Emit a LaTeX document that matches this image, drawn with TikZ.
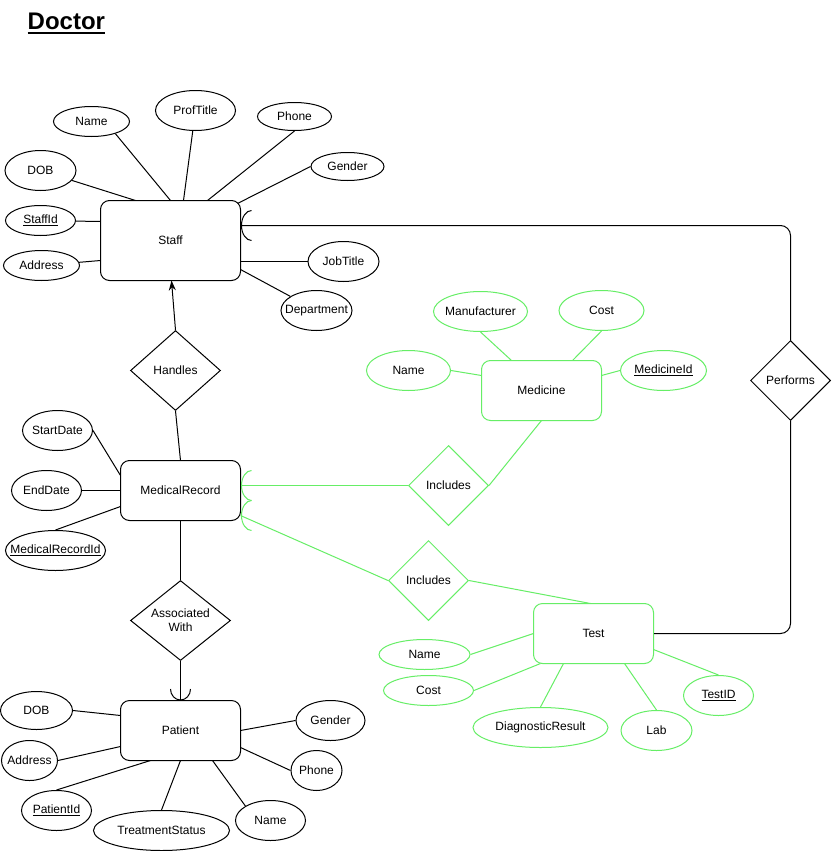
\documentclass[tikz,border=0pt]{standalone}
\usepackage{fontspec}
\setmainfont{Liberation Sans}
\usetikzlibrary{shapes.geometric,calc,arrows.meta}

\definecolor{erGreen}{HTML}{66EE66}

% underlined key attribute text
\newsavebox\ulbox
\newcommand\ulabel[1]{\sbox\ulbox{#1}\rlap{\rule[-2.2pt]{\wd\ulbox}{0.9pt}}\usebox\ulbox}

\tikzset{
  every node/.style={font=\fontsize{12}{14}\selectfont},
  ent/.style={draw, rectangle, rounded corners=9pt, minimum width=120pt,
              minimum height=60pt, inner sep=0pt, line width=1pt},
  attr/.style 2 args={draw, ellipse, minimum width=#1pt, minimum height=#2pt,
              inner sep=0pt, line width=1pt},
  rel/.style 2 args={draw, diamond, minimum width=#1pt, minimum height=#2pt,
              inner sep=0pt, line width=1pt},
  link/.style={line width=1pt},
  grn/.style={draw=erGreen},
  halfring/.pic={\draw[line width=1pt] (11,-15) .. controls (5.5,-15) and (1,-8.3) .. (1,0)
                 .. controls (1,8.3) and (5.5,15) .. (11,15);}
}

\begin{document}
\begin{tikzpicture}[x=1pt, y=-1pt]
\fill[white] (0,0) rectangle (831,851);
\useasboundingbox (0,0) rectangle (831,851);

% half-unit shift keeps 1pt strokes on whole pixels
\begin{scope}[shift={(0.5,0.5)}]

% title
\node[anchor=base west, inner sep=0pt, font=\fontsize{24}{28}\selectfont\bfseries] (title) at (27,29) {Doctor};
\draw[line width=2pt] ($(title.base west)+(0,3.5)$) -- ($(title.base east)+(0,3.5)$);

% ---------- Staff ----------
\node[ent, minimum width=140pt, minimum height=80pt] (staff) at (170,240) {Staff};
\node[attr={76}{30}, label=center:Name] (stName) at (91,121) {};
\node[attr={80}{40}, label=center:ProfTitle] (stProf) at (195,110) {};
\node[attr={74}{28}, label=center:Phone] (stPhone) at (294,116) {};
\node[attr={73}{28}, label=center:Gender] (stGender) at (347,166) {};
\node[attr={71}{40}, label=center:DOB] (stDOB) at (40,170) {};
\node[attr={70}{30}, label={center:\ulabel{StaffId}}] (stId) at (40,220) {};
\node[attr={76}{30}, label=center:Address] (stAddr) at (41,265) {};
\node[attr={71}{40}, label=center:JobTitle] (stJob) at (343,261) {};
\node[attr={71}{40}, label=center:Department] (stDept) at (316,310) {};

\draw[link] (stName.333) -- ($(staff)+(0,-40)$);
\draw[link] (stProf) -- ($(staff)+(13,-40)$);
\draw[link] (stPhone.south) -- ($(staff)+(37,-40)$);
\draw[link] (stGender.west) -- ($(staff)+(67,-37)$);
\draw[link] (stDOB) -- ($(staff)+(-35,-40)$);
\draw[link] (stId) -- ($(staff)+(-70,-19)$);
\draw[link] (stAddr) -- ($(staff)+(-70,20)$);
\draw[link] (stJob) -- ($(staff)+(70,21)$);
\draw[link] (stDept) -- ($(staff)+(70,29)$);

% ---------- Handles ----------
\node[rel={90}{80}, label=center:Handles] (handles) at (175,370) {};

% ---------- MedicalRecord ----------
\node[ent] (mr) at (180,490) {MedicalRecord};
\node[attr={70}{40}, label=center:StartDate] (mrStart) at (57,430) {};
\node[attr={70}{40}, label=center:EndDate] (mrEnd) at (46,490) {};
\node[attr={100}{40}, label={center:\ulabel{MedicalRecordId}}] (mrId) at (55,550) {};

\draw[link] (mrStart.east) -- ($(mr)+(-60,-15)$);
\draw[link] (mrEnd) -- ($(mr)+(-60,0)$);
\draw[link] (mrId.north) -- ($(mr)+(-60,16)$);

\draw[link, -{Stealth[length=10pt,width=7pt]}] (handles.north) -- ($(staff)+(1,40)$);
\draw[link] (handles.south) -- ($(mr)+(0,-30)$);

% ---------- Associated With / Patient ----------
\node[rel={100}{80}, label={[align=center]center:Associated\\With}] (assoc) at (180,620) {};
\node[ent] (pat) at (180,730) {Patient};
\node[attr={72}{38}, label=center:DOB] (ptDOB) at (36,710) {};
\node[attr={56}{40}, label=center:Address] (ptAddr) at (29,760) {};
\node[attr={70}{40}, label={center:\ulabel{PatientId}}] (ptId) at (56,810) {};
\node[attr={136}{40}, label=center:TreatmentStatus] (ptTreat) at (161,830) {};
\node[attr={70}{40}, label=center:Name] (ptName) at (270,820) {};
\node[attr={51}{40}, label=center:Phone] (ptPhone) at (316,770) {};
\node[attr={69}{40}, label=center:Gender] (ptGender) at (330,720) {};

\draw[link] ($(mr)+(0,30)$) -- (assoc.north);
\draw[link] (assoc.south) -- (pat.north);
\begin{scope}[shift={(pat.north)}]
  \draw[link] (-10,-11) .. controls (-10,-4.9) and (-5.5,0) .. (0,0)
              .. controls (5.5,0) and (10,-4.9) .. (10,-11);
\end{scope}

\draw[link] (ptDOB.east) -- ($(pat)+(-60,-15)$);
\draw[link] (ptAddr.east) -- ($(pat)+(-60,16)$);
\draw[link] (ptId.north) -- ($(pat)+(-30,30)$);
\draw[link] (ptTreat.north) -- ($(pat)+(0,30)$);
\draw[link] (ptName.150) -- ($(pat)+(32,30)$);
\draw[link] (ptPhone.west) -- ($(pat)+(60,17)$);
\draw[link] (ptGender.west) -- ($(pat)+(60,0)$);

% ---------- Medicine ----------
\node[ent, grn] (med) at (541,390) {Medicine};
\node[attr={94}{40}, grn, label=center:Manufacturer] (mdMan) at (480,311) {};
\node[attr={85}{40}, grn, label=center:Cost] (mdCost) at (601,310) {};
\node[attr={84}{40}, grn, label=center:Name] (mdName) at (408,370) {};
\node[attr={86}{40}, grn, label={center:\ulabel{MedicineId}}] (mdId) at (663,370) {};

\draw[link, grn] (mdMan.south) -- ($(med)+(-30,-30)$);
\draw[link, grn] (mdCost.south) -- ($(med)+(31,-30)$);
\draw[link, grn] (mdName.east) -- ($(med)+(-60,-15)$);
\draw[link, grn] (mdId.west) -- ($(med)+(60,-15)$);

% ---------- Test ----------
\node[ent, grn] (test) at (593,633) {Test};
\node[attr={91}{30}, grn, label=center:Name] (tsName) at (424,654) {};
\node[attr={90}{30}, grn, label=center:Cost] (tsCost) at (428,690) {};
\node[attr={135}{40}, grn, label=center:DiagnosticResult] (tsDiag) at (540,727) {};
\node[attr={71}{40}, grn, label=center:Lab] (tsLab) at (656,730) {};
\node[attr={70}{40}, grn, label={center:\ulabel{TestID}}] (tsId) at (718,695) {};

\draw[link, grn] (tsName.east) -- ($(test)+(-60,0)$);
\draw[link, grn] (tsCost.east) -- ($(test)+(-53,30)$);
\draw[link, grn] (tsDiag.north) -- ($(test)+(-30,30)$);
\draw[link, grn] (tsLab.north) -- ($(test)+(31,30)$);
\draw[link, grn] (tsId.north) -- ($(test)+(60,16)$);

% ---------- Includes relationships ----------
\node[rel={80}{80}, grn, label=center:Includes] (inc1) at (448,485) {};
\node[rel={80}{80}, grn, label=center:Includes] (inc2) at (428,580) {};

\draw[link, grn] ($(mr)+(60,-5)$) -- (inc1.west);
\draw[link, grn] (inc1.east) -- ($(med)+(0,30)$);
\draw[link, grn] ($(mr)+(60,25)$) -- (inc2.west);
\draw[link, grn] (inc2.east) -- ($(test)+(-3,-30)$);
\pic[color=erGreen] at ($(mr)+(60,-5)$) {halfring};
\pic[color=erGreen] at ($(mr)+(60,25)$) {halfring};

% ---------- Performs ----------
\node[rel={80}{80}, label=center:Performs] (perf) at (790,380) {};
\draw[link, rounded corners=10pt] ($(staff)+(70,-15)$) -| (perf.north);
\draw[link, rounded corners=10pt] (test.east) -| (perf.south);
\pic at ($(staff)+(70,-15)$) {halfring};

\end{scope}
\end{tikzpicture}
\end{document}
